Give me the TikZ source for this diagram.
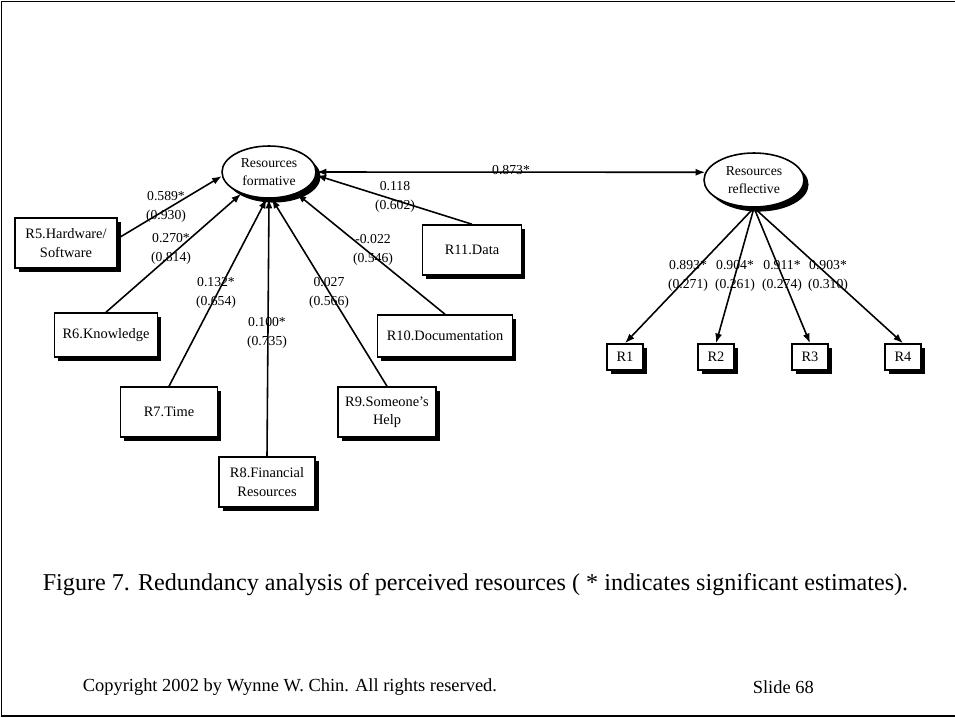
\documentclass[tikz,border=0pt]{standalone}
\usepackage{fontspec}
\setmainfont{Liberation Serif}
\usetikzlibrary{arrows.meta, shapes.geometric, shadows}

\begin{document}
\begin{tikzpicture}[x=0.02cm, y=-0.02cm, line width=0.9pt,
    >={Latex[length=5.5pt, width=4pt]},
    item/.style={draw, fill=white, rectangle, inner sep=0pt, align=center,
      font=\fontsize{8.2}{10.5}\selectfont,
      drop shadow={fill=black, opacity=1, shadow xshift=2pt, shadow yshift=-2pt}},
    construct/.style={draw, fill=white, ellipse, inner sep=0pt, align=center,
      font=\fontsize{7.8}{10}\selectfont,
      drop shadow={fill=black, opacity=1, shadow xshift=2.6pt, shadow yshift=-2.6pt}},
    est/.style={align=center, inner sep=0pt, font=\fontsize{7.8}{10.8}\selectfont}]
  \useasboundingbox (0,0) rectangle (955,717);

  % slide frame
  \draw[line width=1.1pt] (955,1.5) -- (1.5,1.5) -- (1.5,716) -- (955,716);

  % latent constructs
  \node[construct, minimum width=1.88cm, minimum height=1.04cm] (form) at (269,172) {Resources\\formative};
  \node[construct, minimum width=2cm, minimum height=1.08cm] (refl) at (754,180) {Resources\\reflective};

  % formative indicators
  \node[item, minimum width=2.04cm, minimum height=1cm] (r5) at (66,243) {R5.Hardware/\\Software};
  \node[item, minimum width=2.06cm, minimum height=0.88cm] (r6) at (106,335) {R6.Knowledge};
  \node[item, minimum width=1.94cm, minimum height=1cm] (r7) at (169,412) {R7.Time};
  \node[item, minimum width=1.92cm, minimum height=1cm] (r8) at (267,482) {R8.Financial\\Resources};
  \node[item, minimum width=1.96cm, minimum height=1cm] (r9) at (387,412) {R9.Someone{\char"27}s\\Help};
  \node[item, minimum width=2.7cm, minimum height=0.84cm] (r10) at (445,336) {R10.Documentation};
  \node[item, minimum width=1.98cm, minimum height=1cm] (r11) at (472,250) {R11.Data};

  % reflective indicators
  \foreach \i/\x in {1/625, 2/716, 3/810, 4/903}
    \node[item, minimum width=0.72cm, minimum height=0.52cm] (r\i) at (\x,357) {R\i};

  % weights (t-values)
  \node[est] (w5) at (166,207) {0.589*\\(0.930)};
  \node[est] (w6) at (171,249) {0.270*\\(0.814)};
  \node[est] (w7) at (216,293) {0.132*\\(0.654)};
  \node[est] (w8) at (267,333) {0.100*\\(0.735)};
  \node[est] (w9) at (329,293) {0.027\\(0.566)};
  \node[est] (w10) at (373,250) {-0.022\\(0.546)};
  \node[est] (w11) at (395,197) {0.118\\(0.602)};
  \node[est] (corr) at (511,170) {0.873*};

  % loadings
  \foreach \i/\x/\l/\t in {1/688/0.893*/0.271, 2/735/0.904*/0.261,
                           3/782/0.911*/0.274, 4/828/0.903*/0.310}
    \node[est] (l\i) at (\x,276) {\l\\(\t)};

  % paths into the formative construct
  \draw[->] (r5.5) -- (form.185);
  \draw[->] (r6.north) -- (form.218);
  \draw[->] (r7.north) -- (form.265);
  \draw[->] (r8.north) -- (form.south);
  \draw[->] (r9.north) -- (form.276);
  \draw[->] (r10.north) -- (form.322);
  \draw[->] (r11.north) -- (form.356);

  % construct correlation
  \draw[<->] (form.east) -- (refl.171);

  % reflective loadings
  \foreach \i in {1,...,4}
    \draw[->] (refl.south) -- (r\i.north);

  % caption and footer
  \node[anchor=west, inner sep=0pt, font=\fontsize{13.75}{16}\selectfont] (caption) at (42,585)
    {Figure 7. Redundancy analysis of perceived resources ( * indicates significant estimates).};
  \node[anchor=west, inner sep=0pt, font=\fontsize{10.5}{12}\selectfont] (copyright) at (82,687)
    {Copyright 2002 by Wynne W. Chin. All rights reserved.};
  \node[anchor=west, inner sep=0pt, font=\fontsize{10.5}{12}\selectfont] (slide) at (752,687) {Slide 68};
\end{tikzpicture}
\end{document}
